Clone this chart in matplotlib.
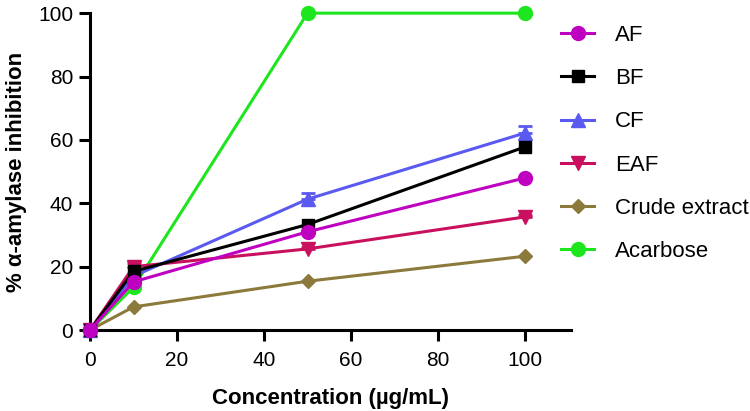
import numpy as np
import matplotlib
matplotlib.use('Agg')
import matplotlib.pyplot as plt

plt.rcParams['font.family'] = ['Liberation Sans', 'DejaVu Sans']

# concentration (ug/mL)
conc = [0, 10, 50, 100]

# % alpha-amylase inhibition
af = [0, 15.2, 31.0, 48.0]
bf = [0, 18.5, 33.3, 57.8]
cf = [0, 17.0, 41.3, 62.2]
cf_err = [0, 0.8, 2.0, 2.2]
eaf = [0, 20.0, 25.6, 35.7]
eaf_err = [0, 1.0, 0.5, 0.5]
crude = [0, 7.3, 15.4, 23.3]
acarbose = [0, 13.5, 100, 100]

labels = ['AF', 'BF', 'CF', 'EAF', 'Crude extract', 'Acarbose']
colors = ['#C000C0', '#000000', '#5A5AF0', '#C8105E', '#8C7A3C', '#1EE61E']
markers = ['o', 's', '^', 'v', 'D', 'o']
msizes = [10, 9, 10, 10, 7.5, 10]

series = [af, bf, cf, eaf, crude, acarbose]
errs = [None, None, cf_err, eaf_err, None, None]

fig = plt.figure(figsize=(7.5, 4.11), dpi=100)
ax = fig.add_axes([0.12, 0.197, 0.641, 0.771])

for i in range(len(series)):
    z = 10 - i
    if errs[i] is not None:
        ax.errorbar(conc, series[i], yerr=[np.zeros(len(conc)), errs[i]],
                    fmt='none', ecolor=colors[i], elinewidth=2, capsize=5,
                    capthick=2, zorder=z, clip_on=False)
    ax.plot(conc, series[i], color=colors[i], marker=markers[i],
            markersize=msizes[i], linewidth=2.2, label=labels[i],
            zorder=z, clip_on=False)

ax.set_xlim(0, 110.5)
ax.set_ylim(0, 100)
ax.set_xticks([0, 20, 40, 60, 80, 100])
ax.set_yticks([0, 20, 40, 60, 80, 100])

for s in ['top', 'right']:
    ax.spines[s].set_visible(False)
for s in ['left', 'bottom']:
    ax.spines[s].set_linewidth(2.2)
ax.spines['left'].set_bounds(0, 100)

ax.tick_params(axis='both', direction='out', length=8, width=2.2,
               labelsize=15, pad=4)
ax.tick_params(axis='x', pad=7)

ax.set_xlabel('Concentration (µg/mL)', fontsize=16, fontweight='bold', labelpad=13)
ax.set_ylabel('% α-amylase inhibition', fontsize=16, fontweight='bold', labelpad=8)

leg = fig.legend(loc='upper left', bbox_to_anchor=(0.736, 0.961), frameon=False,
                 fontsize=16, handlelength=1.5, labelspacing=1.0,
                 handletextpad=0.95, borderaxespad=0)

fig.savefig('out.png', dpi=100)
